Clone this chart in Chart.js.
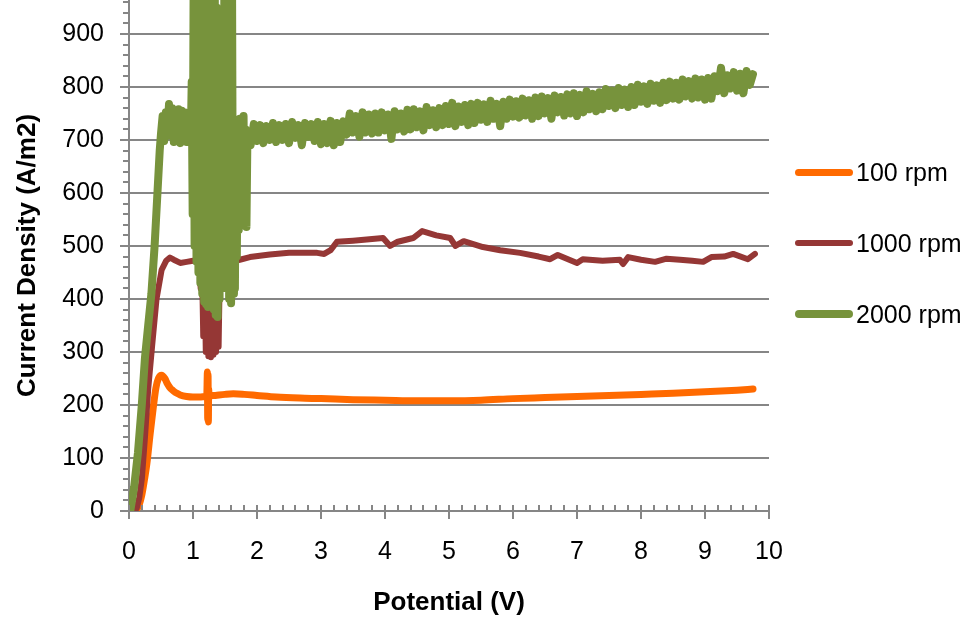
<!DOCTYPE html>
<html>
<head>
<meta charset="utf-8">
<script src="https://cdn.jsdelivr.net/npm/chart.js@4.4.0/dist/chart.umd.min.js"></script>
<style>
  body { margin: 0; background: #fff; }
  #contenedor { position: relative; width: 972px; height: 618px; }
  #leyenda { position: absolute; left: 795px; top: 158px; font: 25px "Liberation Sans", Arial, sans-serif; color: #000; }
  .item { display: flex; align-items: center; height: 28px; margin-bottom: 43px; white-space: nowrap; }
  .muestra { width: 58px; border-radius: 4px; margin-right: 3px; }
</style>
</head>
<body>
<div id="contenedor">
  <canvas id="graficoCorriente"></canvas>
  <div id="leyenda"></div>
</div>
<script>
// datos
const series = ['100 rpm', '1000 rpm', '2000 rpm'];
const marcasX = [0, 1, 2, 3, 4, 5, 6, 7, 8, 9, 10];
const marcasY = [0, 100, 200, 300, 400, 500, 600, 700, 800, 900];

const potencial100 = [
  0.08, 0.12, 0.16, 0.2, 0.24, 0.28, 0.33, 0.38, 0.42, 0.46,
  0.51, 0.56, 0.6, 0.65, 0.69, 0.75, 0.8, 0.9, 1.0, 1.1,
  1.2, 1.215, 1.225, 1.23, 1.235, 1.24, 1.245, 1.25, 1.27, 1.35,
  1.5, 1.63, 1.8, 2.0, 2.3, 2.67, 3.0, 3.5, 4.0, 4.5,
  5.0, 5.5, 6.0, 6.5, 7.0, 7.5, 8.0, 8.5, 9.0, 9.5,
  9.75
];
const densidad100 = [
  0, 3, 12, 30, 58, 90, 145, 196, 232, 250,
  256, 250, 240, 231, 227, 222, 219, 216, 215, 215,
  216, 217, 262, 172, 258, 168, 230, 216, 217, 218,
  220, 221, 220, 218, 215, 213, 212, 210, 209, 208,
  208, 209, 212, 214, 216, 218, 220, 222, 225, 228,
  230
];

const potencial1000 = [
  0.08, 0.12, 0.16, 0.2, 0.25, 0.3, 0.36, 0.43, 0.51, 0.58,
  0.64, 0.7, 0.8, 0.9, 1.0, 1.06, 1.1, 1.12, 1.14, 1.16,
  1.18, 1.2, 1.22, 1.24, 1.26, 1.28, 1.3, 1.32, 1.34, 1.36,
  1.38, 1.4, 1.42, 1.5, 1.73, 1.89, 2.2, 2.5, 2.94, 3.05,
  3.15, 3.25, 3.5, 3.97, 4.08, 4.2, 4.44, 4.58, 4.8, 5.02,
  5.1, 5.23, 5.53, 5.8, 6.11, 6.4, 6.58, 6.7, 7.0, 7.09,
  7.4, 7.67, 7.72, 7.8, 8.0, 8.22, 8.4, 8.61, 8.8, 8.97,
  9.1, 9.3, 9.44, 9.67, 9.78
];
const densidad1000 = [
  0, 5, 25, 60, 140, 230, 310, 400, 455, 472,
  478, 474, 468, 470, 472, 474, 470, 420, 468, 330,
  465, 300, 460, 292, 455, 290, 450, 295, 440, 300,
  420, 310, 462, 468, 474, 479, 484, 487, 487, 485,
  492, 508, 510, 515, 500, 508, 515, 528, 520, 515,
  500, 509, 498, 492, 487, 480, 475, 483, 468, 475,
  472, 474, 466, 479, 474, 470, 476, 474, 472, 470,
  479, 480, 485, 475, 485
];

const potencial2000 = [
  0.02, 0.08, 0.14, 0.2, 0.25, 0.3, 0.35, 0.4, 0.44, 0.48,
  0.5, 0.525, 0.55, 0.575, 0.6, 0.625, 0.65, 0.675, 0.7, 0.725,
  0.75, 0.775, 0.8, 0.825, 0.85, 0.875, 0.9, 0.925,
  0.95, 0.965, 0.98, 0.995, 1.01, 1.025, 1.04, 1.055, 1.07, 1.085,
  1.1, 1.115, 1.13, 1.145, 1.16, 1.175, 1.19, 1.205, 1.22, 1.235,
  1.25, 1.265, 1.28, 1.295, 1.31, 1.325, 1.34, 1.355, 1.37, 1.385,
  1.4, 1.415, 1.43, 1.445, 1.46, 1.475, 1.49, 1.505, 1.52, 1.535,
  1.55, 1.565, 1.58, 1.595, 1.61, 1.625, 1.64, 1.655, 1.67, 1.685,
  1.7, 1.715, 1.73, 1.745, 1.76, 1.775, 1.79, 1.805, 1.82, 1.835,
  1.85, 1.865,
  1.9, 1.95, 2.0, 2.05, 2.1, 2.15, 2.2, 2.25, 2.3, 2.35,
  2.4, 2.45, 2.5, 2.55, 2.6, 2.65, 2.7, 2.75, 2.8, 2.85,
  2.9, 2.95, 3.0, 3.05, 3.1, 3.15, 3.2, 3.25, 3.3, 3.35,
  3.4, 3.45, 3.5, 3.55, 3.6, 3.65, 3.7, 3.75, 3.8, 3.85,
  3.9, 3.95, 4.0, 4.05, 4.1, 4.15, 4.2, 4.25, 4.3, 4.35,
  4.4, 4.45, 4.5, 4.55, 4.6, 4.65, 4.7, 4.75, 4.8, 4.85,
  4.9, 4.95, 5.0, 5.05, 5.1, 5.15, 5.2, 5.25, 5.3, 5.35,
  5.4, 5.45, 5.5, 5.55, 5.6, 5.65, 5.7, 5.75, 5.8, 5.85,
  5.9, 5.95, 6.0, 6.05, 6.1, 6.15, 6.2, 6.25, 6.3, 6.35,
  6.4, 6.45, 6.5, 6.55, 6.6, 6.65, 6.7, 6.75, 6.8, 6.85,
  6.9, 6.95, 7.0, 7.05, 7.1, 7.15, 7.2, 7.25, 7.3, 7.35,
  7.4, 7.45, 7.5, 7.55, 7.6, 7.65, 7.7, 7.75, 7.8, 7.85,
  7.9, 7.95, 8.0, 8.05, 8.1, 8.15, 8.2, 8.25, 8.3, 8.35,
  8.4, 8.45, 8.5, 8.55, 8.6, 8.65, 8.7, 8.75, 8.8, 8.85,
  8.9, 8.95, 9.0, 9.05, 9.1, 9.15, 9.2, 9.25, 9.3, 9.35,
  9.4, 9.45, 9.5, 9.55, 9.6, 9.65, 9.7, 9.75
];
const densidad2000 = [
  0, 45, 110, 200, 290, 350, 410, 500, 590, 680,
  712, 745, 698, 752, 708, 768, 718, 760, 696, 748,
  705, 758, 694, 755, 712, 752, 696, 745,
  740, 700, 810, 560, 1000, 500, 1000, 470, 1000, 450,
  1000, 430, 1000, 410, 1000, 395, 1000, 390, 1000, 385,
  1000, 400, 1000, 398, 1000, 380, 1000, 370, 950, 366,
  905, 400, 830, 420, 790, 430, 1000, 440, 1000, 420,
  1000, 400, 1000, 392, 1000, 410, 730, 420, 735, 480,
  730, 530, 740, 550, 720, 560, 745, 545, 720, 536,
  705, 690,
  690, 730, 698, 728, 694, 726, 700, 732, 696, 728,
  700, 730, 694, 734, 704, 728, 690, 732, 706, 730,
  698, 734, 692, 730, 694, 736, 690, 732, 696, 735,
  710, 750, 714, 745, 706, 752, 714, 748, 712, 750,
  714, 752, 718, 748, 702, 754, 720, 750, 716, 757,
  720, 758, 724, 754, 718, 762, 728, 756, 724, 760,
  728, 764, 730, 770, 726, 763, 734, 766, 728, 768,
  732, 770, 738, 767, 734, 774, 740, 768, 726, 772,
  740, 776, 744, 773, 742, 778, 746, 775, 740, 780,
  745, 782, 750, 779, 740, 784, 752, 781, 746, 786,
  750, 788, 745, 785, 752, 792, 758, 787, 754, 790,
  758, 796, 764, 793, 760, 798, 766, 795, 762, 800,
  766, 804, 772, 801, 768, 806, 774, 803, 770, 808,
  775, 810, 778, 808, 776, 814, 782, 811, 778, 816,
  780, 814, 776, 817, 778, 820, 792, 836, 788, 822,
  797, 828, 793, 825, 788, 830, 804, 824
];

const colores = ['#FF6A00', '#953735', '#77933C'];
const grosores = [7, 6, 8];
const gris = '#868686';
const fuente = '"Liberation Sans", Arial, sans-serif';

function puntos(xs, ys) {
  return xs.map((x, i) => ({ x: x, y: ys[i] }));
}

// marcas de los ejes (mayores y menores)
const marcasEjes = {
  id: 'marcasEjes',
  afterDraw(chart) {
    const { ctx, chartArea, scales } = chart;
    ctx.save();
    ctx.strokeStyle = gris;
    ctx.lineWidth = 2;
    ctx.beginPath();
    for (let v = 0; v <= scales.y.max; v += 20) {
      const py = Math.round(scales.y.getPixelForValue(v));
      const largo = v % 100 === 0 ? 9 : 6;
      ctx.moveTo(chartArea.left - largo, py);
      ctx.lineTo(chartArea.left, py);
    }
    for (let i = 0; i <= 50; i++) {
      const px = Math.round(scales.x.getPixelForValue(i / 5));
      ctx.moveTo(px, chartArea.bottom - 6);
      ctx.lineTo(px, chartArea.bottom + (i % 5 === 0 ? 8 : 0));
    }
    ctx.stroke();
    ctx.restore();
  }
};

Chart.defaults.font.family = fuente;
Chart.defaults.color = '#000';

const ctx = document.getElementById('graficoCorriente').getContext('2d');
const grafico = new Chart(ctx, {
  type: 'line',
  data: {
    datasets: [
      {
        label: series[2],
        data: puntos(potencial2000, densidad2000),
        borderColor: colores[2],
        borderWidth: grosores[2],
        tension: 0
      },
      {
        label: series[1],
        data: puntos(potencial1000, densidad1000),
        borderColor: colores[1],
        borderWidth: grosores[1],
        tension: 0
      },
      {
        label: series[0],
        data: puntos(potencial100, densidad100),
        borderColor: colores[0],
        borderWidth: grosores[0],
        cubicInterpolationMode: 'monotone'
      }
    ]
  },
  options: {
    responsive: true,
    maintainAspectRatio: false,
    animation: false,
    layout: { padding: { left: 0, top: 0, right: 203, bottom: 0 } },
    elements: {
      point: { radius: 0 },
      line: { borderCapStyle: 'round', borderJoinStyle: 'round', fill: false }
    },
    plugins: {
      legend: { display: false },
      tooltip: { enabled: false }
    },
    scales: {
      x: {
        type: 'linear',
        min: 0,
        max: 10,
        afterBuildTicks: s => { s.ticks = marcasX.map(v => ({ value: v })); },
        afterFit: s => { s.height = 107; s.paddingLeft = 0; s.paddingRight = 0; },
        ticks: { font: { size: 25 }, padding: 26, maxRotation: 0, autoSkip: false },
        grid: { display: false, drawTicks: false },
        border: { display: true, color: gris, width: 2 },
        title: {
          display: true,
          text: 'Potential (V)',
          font: { size: 26, weight: 'bold' },
          padding: { top: 0, bottom: 0 }
        }
      },
      y: {
        type: 'linear',
        min: 0,
        max: 964,
        afterBuildTicks: s => { s.ticks = marcasY.map(v => ({ value: v })); },
        afterFit: s => { s.width = 129; s.paddingTop = 0; s.paddingBottom = 0; },
        ticks: { font: { size: 25 }, padding: 25 },
        grid: { color: gris, lineWidth: 2, drawTicks: false },
        border: { display: true, color: gris, width: 2 },
        title: {
          display: true,
          text: 'Current Density (A/m2)',
          font: { size: 26, weight: 'bold' },
          padding: { top: 12, bottom: 0 }
        }
      }
    }
  },
  plugins: [marcasEjes]
});

// leyenda en HTML a la derecha
const leyenda = document.getElementById('leyenda');
series.forEach((nombre, i) => {
  const item = document.createElement('div');
  item.className = 'item';
  const muestra = document.createElement('span');
  muestra.className = 'muestra';
  muestra.style.background = colores[i];
  muestra.style.height = grosores[i] + 'px';
  item.appendChild(muestra);
  item.appendChild(document.createTextNode(nombre));
  leyenda.appendChild(item);
});
</script>
</body>
</html>
